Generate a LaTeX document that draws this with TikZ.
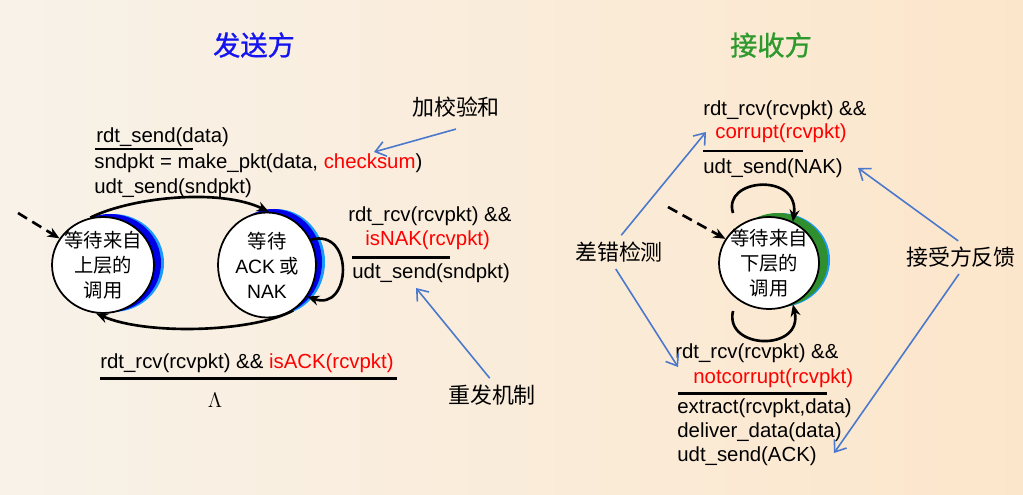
\documentclass[tikz,border=0pt]{standalone}
\usepackage{fontspec}
\setmainfont{Liberation Sans}
\newfontfamily\cjk{Noto Sans CJK SC}
\newfontfamily\cjkbold[FakeBold=1]{Noto Sans CJK SC}
\usetikzlibrary{positioning,arrows.meta,shapes.geometric}
\definecolor{NoteBlue}{HTML}{4A78CC}
\definecolor{TitleBlue}{HTML}{1414F0}
\definecolor{TitleGreen}{HTML}{2E9A2E}
\definecolor{ShadowBlue}{HTML}{0000E6}
\definecolor{RimBlue}{HTML}{1A9CFF}
\definecolor{ShadowGreen}{HTML}{2F8F2F}
\definecolor{BgLeft}{HTML}{F8F2E9}
\definecolor{BgRight}{HTML}{FCE6CB}

\begin{document}
\begin{tikzpicture}[
        x=0.02cm, y=-0.02cm,
        lbl/.style={inner sep=0pt, anchor=base west, font=\fontsize{11.6}{14}\selectfont},
        cn/.style={inner sep=2pt, font=\cjk\fontsize{12.5}{14}\selectfont},
        title/.style={inner sep=0pt, font=\cjkbold\fontsize{15.5}{18}\selectfont},
        state/.style={ellipse, draw=black, line width=1pt, fill=white, align=center, inner xsep=-8pt, inner ysep=-4pt, font=\cjk\fontsize{11}{14.2}\selectfont},
        bar/.style={line width=1.7pt},
        trans/.style={line width=1.5pt, -{Stealth[length=2.4mm,width=2mm]}},
        start/.style={line width=1.5pt, dash pattern=on 6pt off 3.5pt, -{Stealth[length=2.4mm,width=2mm]}},
        note/.style={draw=NoteBlue, line width=0.9pt, -{Straight Barb[length=2mm,width=3mm]}}
    ]
        \useasboundingbox (0,0) rectangle (1023,494);
        \shade[left color=BgLeft, right color=BgRight] (0,0) rectangle (1023,494);

        \node[title, text=TitleBlue] (tsend) at (254,45) {发送方};
        \node[title, text=TitleGreen] (trecv) at (771,45) {接收方};

        % crescent shadows
        \fill[RimBlue] (113,263) ellipse [x radius=51, y radius=49];
        \fill[ShadowBlue] (110,263) ellipse [x radius=51, y radius=49];
        \fill[RimBlue] (276,262) ellipse [x radius=49, y radius=53];
        \fill[ShadowBlue] (273,262) ellipse [x radius=49, y radius=53];
        \fill[RimBlue] (780,260) ellipse [x radius=50, y radius=47];
        \fill[ShadowGreen] (778,260) ellipse [x radius=50, y radius=47];

        \node[state, minimum width=2.04cm, minimum height=1.92cm] (wup) at (103,265) {等待来自\\上层的\\调用};
        \node[state, minimum width=1.96cm, minimum height=2.1cm] (wack) at (267,265) {等待\\{\rmfamily ACK} 或\\{\rmfamily NAK}};
        \node[state, minimum width=2.0cm, minimum height=1.84cm] (wlow) at (769,263) {等待来自\\下层的\\调用};

        % sender labels
        \node[lbl] (sg) at (96,142) {rdt\_send(data)};
        \draw[bar] (95,149) -- (193,149);
        \node[lbl] (sa1) at (94,168) {sndpkt = make\_pkt(data, \textcolor{red}{checksum})};
        \node[lbl] (sa2) at (94,193) {udt\_send(sndpkt)};
        \node[lbl] (ng1) at (348,221) {rdt\_rcv(rcvpkt) \&\&};
        \node[lbl] (ng2) at (365,245) {\textcolor{red}{isNAK(rcvpkt)}};
        \draw[bar] (352,257) -- (450,257);
        \node[lbl] (na) at (352,278) {udt\_send(sndpkt)};
        \node[lbl] (ag) at (100,368) {rdt\_rcv(rcvpkt) \&\& \textcolor{red}{isACK(rcvpkt)}};
        \draw[bar] (100,378) -- (397,378);
        \node[inner sep=0pt, anchor=base, font=\fontsize{13}{15}\selectfont] (lam) at (215,407) {$\Lambda$};

        % receiver labels
        \node[lbl] (r1) at (703,115) {rdt\_rcv(rcvpkt) \&\&};
        \node[lbl] (r2) at (715,138) {\textcolor{red}{corrupt(rcvpkt)}};
        \draw[bar] (703,151) -- (803,151);
        \node[lbl] (r3) at (703,173) {udt\_send(NAK)};
        \node[lbl] (b1) at (675,358) {rdt\_rcv(rcvpkt) \&\&};
        \node[lbl] (b2) at (693,383) {\textcolor{red}{notcorrupt(rcvpkt)}};
        \draw[bar] (678,393) -- (827,393);
        \node[lbl] (b3) at (677,413) {extract(rcvpkt,data)};
        \node[lbl] (b4) at (677,437) {deliver\_data(data)};
        \node[lbl] (b5) at (677,461) {udt\_send(ACK)};

        \node[cn] (chk) at (456,107) {加校验和};
        \node[cn] (redo) at (492,395) {重发机制};
        \node[cn] (det) at (619,252) {差错检测};
        \node[cn] (fb) at (961,257) {接受方反馈};

        \coordinate (inL) at (18,213);
        \coordinate (inR) at (668,207);
        \coordinate (tloop) at (733,213);
        \coordinate (bloop) at (733,311);
        \coordinate (chkpt) at (374,152);
        \coordinate (redopt) at (416,288);
        \coordinate (detup) at (706,132);
        \coordinate (detdn) at (678,367);
        \coordinate (fbup) at (858,168);
        \coordinate (fbdn) at (834,453);

        \draw[start] (inL) -- (wup);
        \draw[start] (inR) -- (wlow);
        \draw[trans] (wup.105) .. controls +(40,-20) and +(-50,-24) .. (wack.88);
        \draw[trans] (wack.300) .. controls +(-40,22) and +(50,22) .. (wup.262);
        \draw[trans] (wack.30) .. controls +(44,-12) and +(44,16) .. (wack.-38);
        \draw[trans] (tloop) .. controls (722,178) and (800,172) .. (wlow.60);
        \draw[trans] (bloop) .. controls (724,350) and (804,352) .. (wlow.-60);

        \draw[note] (chk.south) ++(0,8) -- (chkpt);
        \draw[note, shorten <=2pt] (redo.north) -- (redopt);
        \draw[note, shorten <=2pt] (det.north) -- (detup);
        \draw[note, shorten <=2pt] (det.250) -- (detdn);
        \draw[note, shorten <=2pt] (fb.north) -- (fbup);
        \draw[note, shorten <=2pt] (fb.south) -- (fbdn);
    \end{tikzpicture}
\end{document}
